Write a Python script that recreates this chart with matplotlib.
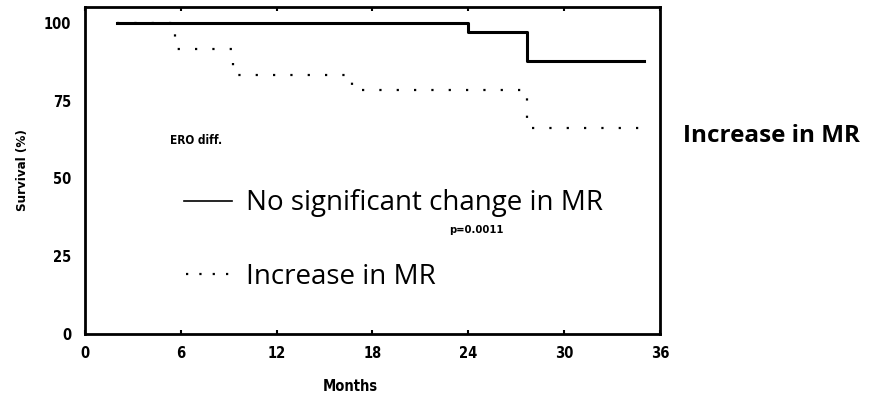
import matplotlib.pyplot as plt

# Kaplan-Meier style step curves (months, survival %)
months_stable = [2, 24.0, 27.7, 35.0]
surv_stable = [100, 97.0, 87.9, 87.9]

months_increase = [2, 5.64, 9.29, 16.7, 27.7, 35.0]
surv_increase = [100, 91.8, 83.3, 78.4, 66.1, 66.1]

xticks = [0, 6, 12, 18, 24, 30, 36]
yticks = [0, 25, 50, 75, 100]

narrow = ['Liberation Sans Narrow', 'DejaVu Sans']
legend_font = ['Open Sans', 'DejaVu Sans']
cond = dict(family=narrow, fontweight='bold', fontstretch='condensed')

fig = plt.figure(figsize=(8.78, 3.96), dpi=100)
ax = fig.add_axes([0.0968, 0.1578, 0.6549, 0.8245])

ax.step(months_increase, surv_increase, where='post', color='black',
        lw=1.6, linestyle=(0, (1, 6.8)))
ax.step(months_stable, surv_stable, where='post', color='black', lw=2.2)

ax.set_xlim(0, 36)
ax.set_ylim(0, 105.2)
ax.set_xticks(xticks)
ax.set_yticks(yticks)
ax.tick_params(axis='x', direction='in', length=3, width=1.5, top=True,
               pad=9)
ax.tick_params(axis='y', length=0, pad=10)
for lab in ax.get_xticklabels() + ax.get_yticklabels():
    lab.set_family(narrow)
    lab.set_fontweight('bold')
    lab.set_fontstretch('condensed')
    lab.set_fontsize(10.5)
for sp in ax.spines.values():
    sp.set_linewidth(2)

ax.set_xlabel('Months', fontsize=10.5, **cond)
ax.xaxis.set_label_coords(0.461, -0.14)
ax.set_ylabel('Survival (%)', fontsize=9.5, **cond)
ax.yaxis.set_label_coords(-0.097, 0.5)

ax.text(5.3, 62.3, 'ERO diff.', fontsize=8.5, va='center', **cond)
ax.text(24.5, 33.3, 'p=0.0011', fontsize=8, ha='center', va='center',
        **cond)

# hand-drawn legend inside the plot
ax.plot([6.2, 9.2], [42.8, 42.8], color='black', lw=1.2)
ax.text(10.1, 43.2, 'No significant change in MR', family=legend_font,
        fontsize=20, va='center_baseline')
ax.plot([6.3, 9.0], [19.3, 19.3], color='black', lw=1.6,
        linestyle=(0, (1, 5)))
ax.text(10.1, 19.4, 'Increase in MR', family=legend_font, fontsize=20,
        va='center_baseline')

fig.text(0.778, 0.665, 'Increase in MR', family=legend_font,
         fontweight='bold', fontsize=17.5, va='center_baseline')

fig.savefig('out.png', dpi=100)
